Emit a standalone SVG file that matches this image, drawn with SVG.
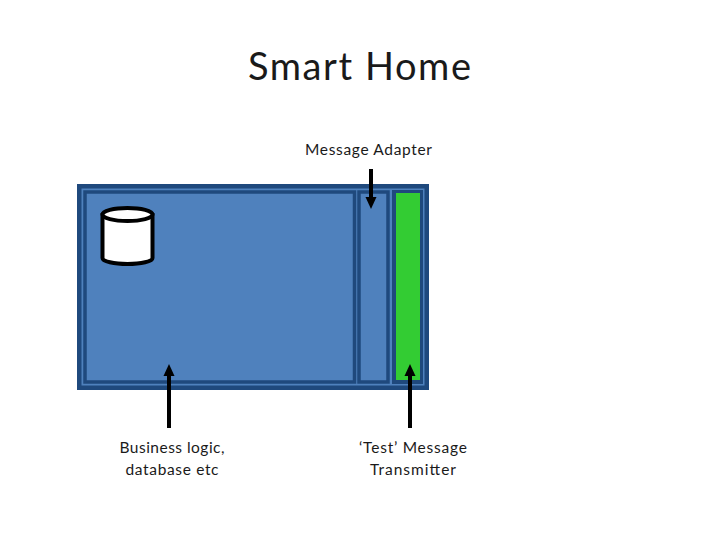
<svg xmlns="http://www.w3.org/2000/svg" width="720" height="540" viewBox="0 0 720 540">
<defs>
<style>
text{font-family:Lato,"Open Sans","Liberation Sans",sans-serif;fill:#1a1a1a;text-anchor:middle}
.lbl{font-size:15.500px}
.pane{fill:#4f81bd;stroke:#1f497d;stroke-width:3.500}
.conn{stroke:#000;stroke-width:4;fill:none}
.head{fill:#000}
</style>
</defs>
<rect width="720" height="540" fill="#fff"/>
<text id="title" x="359.500" y="80" textLength="223" lengthAdjust="spacing" style="font-size:38px">Smart Home</text>
<g id="outer"><rect x="77" y="184" width="352" height="206" fill="#1f497d"/><rect x="81.500" y="188.500" width="343" height="197" fill="#4f81bd"/></g>
<g id="main-pane"><rect class="pane" x="85" y="192" width="269.500" height="190"/></g>
<g id="adapter-pane"><rect class="pane" x="359" y="192" width="29" height="190"/></g>
<g id="transmitter-pane"><rect x="392" y="190" width="31" height="194" fill="#1f497d"/><rect x="396" y="193" width="24" height="187" fill="#33cc33"/></g>
<g id="database"><path d="M102.500 215V258C102.500 261.500 114 264 127.500 264S152.500 261.500 152.500 258V215Z" fill="#fff" stroke="#000" stroke-width="4"/><ellipse cx="127.500" cy="214.500" rx="25" ry="6.500" fill="#fff" stroke="#000" stroke-width="4"/></g>
<g id="connectors">
<path class="conn" d="M371 169V198"/><path class="head" d="M365.500 197H376.500L371 209Z"/>
<path class="conn" d="M169 428V375"/><path class="head" d="M163.500 376H174.500L169 364Z"/>
<path class="conn" d="M410 428V375"/><path class="head" d="M404.500 376H415.500L410 364Z"/>
</g>
<g id="labels">
<text class="lbl" x="368.500" y="155" textLength="127" lengthAdjust="spacing">Message Adapter</text>
<text class="lbl" x="172" y="453" textLength="105" lengthAdjust="spacing">Business logic,</text>
<text class="lbl" x="172" y="475" textLength="93" lengthAdjust="spacing">database etc</text>
<text class="lbl" x="413" y="453" textLength="108" lengthAdjust="spacing">‘Test’ Message</text>
<text class="lbl" x="413" y="475" textLength="86" lengthAdjust="spacing">Transmitter</text>
</g>
</svg>
